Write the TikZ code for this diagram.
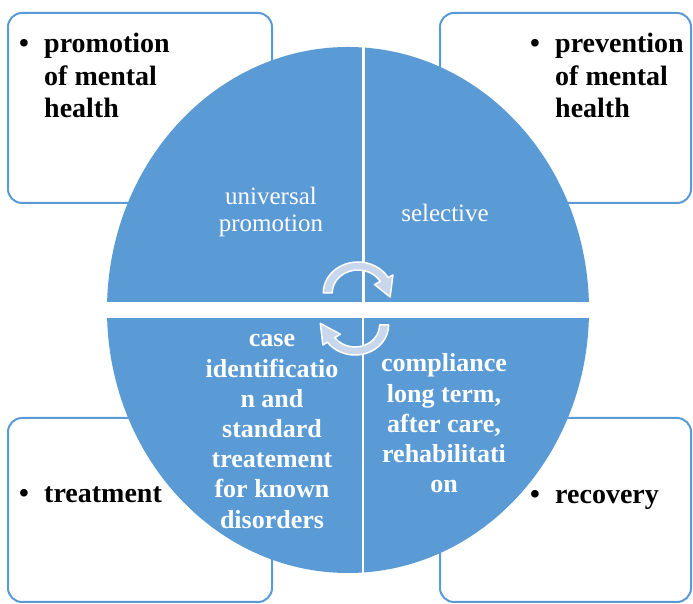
\documentclass[tikz,border=0pt]{standalone}
\usepackage{fontspec}
\setmainfont{Liberation Serif}
\definecolor{qblue}{RGB}{91,155,213}
\definecolor{arrowfill}{RGB}{200,215,236}
\newcommand{\mylinesL}[1]{\begin{tabular}[t]{@{}l@{}}#1\end{tabular}}
\newcommand{\mylinesC}[1]{\begin{tabular}[t]{@{}c@{}}#1\end{tabular}}
\begin{document}
\begin{tikzpicture}[x=1pt,y=1pt,
  box/.style={draw=qblue, line width=2pt, rounded corners=14pt, fill=white, rectangle, inner sep=0pt},
  boxtext/.style={font=\fontsize{28}{32.5}\selectfont\bfseries, inner sep=0pt, anchor=base west},
  bul/.style={font=\fontsize{28}{32.5}\selectfont\bfseries, inner sep=0pt, anchor=base},
  intext/.style={text=white, font=\fontsize{25}{27}\selectfont, inner sep=0pt, anchor=base},
  inbold/.style={text=white, font=\fontsize{26}{30.2}\selectfont\bfseries, inner sep=0pt, anchor=base},
  cyc/.style={fill=arrowfill, draw=white, line width=1.5pt, line join=round}
]
\useasboundingbox (0,0) rectangle (693,604);
\fill[white] (0,0) rectangle (693,604);

% boxes
\node[box, minimum width=264pt, minimum height=190pt] (boxTL) at (140,496) {};
\node[box, minimum width=251pt, minimum height=190pt] (boxTR) at (565.5,496) {};
\node[box, minimum width=264pt, minimum height=184pt] (boxBL) at (140,94) {};
\node[box, minimum width=251pt, minimum height=184pt] (boxBR) at (565.5,94) {};

% box texts
\node[bul] (bTL) at (24,551) {•};
\node[boxtext] (tTL) at (44,551) {\mylinesL{promotion\\of mental\\health}};
\node[bul] (bTR) at (535,551) {•};
\node[boxtext] (tTR) at (555,551) {\mylinesL{prevention\\of mental\\health}};
\node[bul] (bBL) at (24,101) {•};
\node[boxtext] (tBL) at (44,101) {treatment};
\node[bul] (bBR) at (535,100) {•};
\node[boxtext] (tBR) at (555,100) {recovery};

% circle
\begin{scope}
\clip (348,294) ellipse [x radius=241, y radius=263];
\fill[qblue] (100,302) rectangle (600,600);
\fill[qblue] (100,0) rectangle (600,286);
\end{scope}
\draw[white, line width=3pt] (363,302) -- (363,565);
\draw[white, line width=1.5pt] (363,286) -- (363,25);

% circle texts
\node[intext] (univ) at (271,399) {\mylinesC{universal\\promotion}};
\node[intext] (sel) at (445,382) {selective};
\node[inbold] (case) at (272,257) {\mylinesC{case\\identificatio\\n and\\standard\\treatement\\for known\\disorders}};
\node[inbold] (comp) at (444,232) {\mylinesC{compliance\\long term,\\after care,\\rehabilitati\\on}};

% cycle arrows
\begin{scope}[shift={(358,311)}, xscale=1.12]
\filldraw[cyc] (180:31) arc[start angle=180, end angle=30, radius=31]
  -- (30:36) -- (-8:29) -- (30:17) -- (30:23)
  arc[start angle=30, end angle=180, radius=23] -- cycle;
\end{scope}
\begin{scope}[shift={(355,279)}, xscale=1.12]
\filldraw[cyc] (0:30) arc[start angle=0, end angle=-145, radius=30]
  -- (-145:35) -- (-183:31) -- (-145:16) -- (-145:22)
  arc[start angle=-145, end angle=0, radius=22] -- cycle;
\end{scope}
\end{tikzpicture}
\end{document}
